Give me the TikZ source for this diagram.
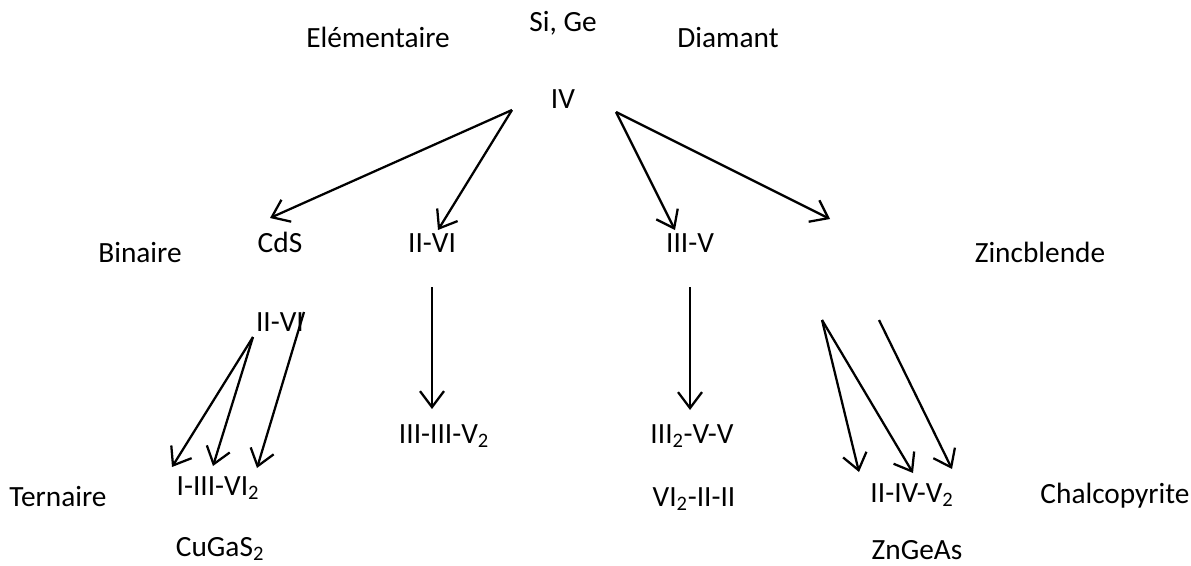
\documentclass[tikz,border=0pt]{standalone}
\usepackage{fontspec}
\setmainfont{Carlito}
\usetikzlibrary{arrows.meta}
\begin{document}
\begin{tikzpicture}[x=0.75pt,y=-0.75pt,
  lbl/.style={anchor=base,inner sep=0pt,font=\fontsize{22pt}{26pt}\selectfont},
  link/.style={line width=1.7pt,-{Straight Barb[length=12pt,width=18pt,line width=1.7pt]}}]
\useasboundingbox (0,0) rectangle (1191,565);

% labels of the classes
\node[lbl] (sige)  at (563,31)  {Si, Ge};
\node[lbl] (elem)  at (378,47)  {Elémentaire};
\node[lbl] (diam)  at (728,47)  {Diamant};
\node[lbl] (iv)    at (563,108) {IV};

\node[lbl] (cds)   at (280,252) {CdS};
\node[lbl] (iivi)  at (432,252) {II-VI};
\node[lbl] (iiiv)  at (690,252) {III-V};
\node[lbl] (bin)   at (140,262) {Binaire};
\node[lbl] (zinc)  at (1040,262){Zincblende};
\node[lbl] (iivib) at (280,331) {II-VI};

\node[lbl] (t1)    at (444,443) {III-III-V\textsubscript{2}};
\node[lbl] (t2)    at (692,443) {III\textsubscript{2}-V-V};
\node[lbl] (t3)    at (694,506) {VI\textsubscript{2}-II-II};
\node[lbl] (t4)    at (218,495) {I-III-VI\textsubscript{2}};
\node[lbl] (cugas) at (220,556) {CuGaS\textsubscript{2}};
\node[lbl] (tern)  at (58,506)  {Ternaire};
\node[lbl] (t5)    at (912,502) {II-IV-V\textsubscript{2}};
\node[lbl] (chal)  at (1115,503){Chalcopyrite};
\node[lbl] (zgas)  at (917,559) {ZnGeAs};

% arrow end points
\coordinate (ivl) at (512,110);
\coordinate (ivr) at (616,112);
\coordinate (tcds) at (270,218);
\coordinate (tiivi) at (438,230);
\coordinate (tiiiv) at (675,230);
\coordinate (tzinc) at (830,219);
\coordinate (v1s) at (432,287);
\coordinate (v1e) at (432,409);
\coordinate (v2s) at (690,287);
\coordinate (v2e) at (690,410);
\coordinate (l1s) at (253,337);
\coordinate (l2s) at (304,312);
\coordinate (l1e) at (172,467);
\coordinate (l2e) at (213,466);
\coordinate (l3e) at (257,468);
\coordinate (r1s) at (822,320);
\coordinate (r2s) at (879,320);
\coordinate (r1e) at (859,472);
\coordinate (r2e) at (913,473);
\coordinate (r3e) at (952,469);

% connectors
\draw[link] (ivl) -- (tcds);
\draw[link] (ivl) -- (tiivi);
\draw[link] (ivr) -- (tiiiv);
\draw[link] (ivr) -- (tzinc);
\draw[link] (v1s) -- (v1e);
\draw[link] (v2s) -- (v2e);
\draw[link] (l1s) -- (l1e);
\draw[link] (l1s) -- (l2e);
\draw[link] (l2s) -- (l3e);
\draw[link] (r1s) -- (r1e);
\draw[link] (r1s) -- (r2e);
\draw[link] (r2s) -- (r3e);
\end{tikzpicture}
\end{document}
